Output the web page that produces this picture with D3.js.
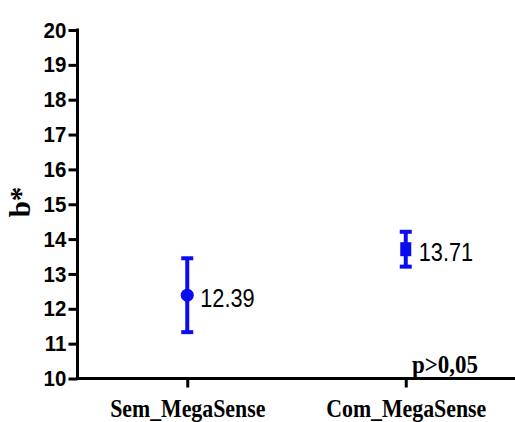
<!DOCTYPE html>
<html>
<head>
<meta charset="utf-8">
<script src="https://cdn.jsdelivr.net/npm/d3@7"></script>
<style>
  body { margin: 0; background: #fff; }
  svg { display: block; }
</style>
</head>
<body>
<svg id="chart" width="515" height="422"></svg>
<script>
// group means with the error bar limits
const groups = ["Sem_MegaSense", "Com_MegaSense"];
const means = [12.39, 13.71];
const upper = [13.45, 14.21];
const lower = [11.33, 13.21];
const markers = ["circle", "square"];
const yTicks = [10, 11, 12, 13, 14, 15, 16, 17, 18, 19, 20];

const svg = d3.select("#chart");
const blue = "#0b0bf0";
const sans = "Arial, 'Liberation Sans', sans-serif";
const serif = "'Liberation Serif', 'Times New Roman', serif";

const x = d3.scalePoint().domain(groups).range([78, 515]).padding(0.5);
const y = d3.scaleLinear().domain([10, 20]).range([378.5, 30]);

// y axis
const yAxis = svg.append("g")
  .attr("transform", "translate(77.5,0)")
  .call(d3.axisLeft(y).tickValues(yTicks).tickSize(9).tickPadding(3).tickFormat(d3.format("d")));
yAxis.select(".domain").attr("stroke-width", 3).attr("d", "M0,28.5V380");
yAxis.selectAll(".tick line").attr("stroke-width", 3);
yAxis.selectAll(".tick text")
  .attr("font-family", sans)
  .attr("font-weight", "bold")
  .attr("font-size", 22)
  .attr("transform", "scale(0.93,1)")
  .attr("fill", "#000");

// x axis
const xAxis = svg.append("g")
  .attr("transform", "translate(0,378.5)")
  .call(d3.axisBottom(x).tickSize(9));
xAxis.select(".domain").attr("stroke-width", 3).attr("d", "M76,0H515");
xAxis.selectAll(".tick line").attr("stroke-width", 3);
xAxis.selectAll(".tick text")
  .attr("y", 38.5)
  .attr("dy", 0)
  .attr("font-family", serif)
  .attr("font-weight", "bold")
  .attr("font-size", 26)
  .attr("transform", "scale(0.84,1)")
  .attr("fill", "#000");

// y title
svg.append("text")
  .attr("transform", "translate(30,202) rotate(-90)")
  .attr("text-anchor", "middle")
  .attr("font-family", serif)
  .attr("font-weight", "bold")
  .attr("font-size", 29)
  .text("b*");

// error bars
const pts = groups.map((g, i) => ({ g, m: means[i], hi: upper[i], lo: lower[i], shape: markers[i] }));
const bars = svg.append("g").selectAll("g").data(pts).join("g")
  .attr("transform", d => `translate(${x(d.g)},0)`);

bars.append("line")
  .attr("y1", d => y(d.hi)).attr("y2", d => y(d.lo))
  .attr("stroke", blue).attr("stroke-width", 4);
bars.append("line")
  .attr("x1", -6).attr("x2", 6)
  .attr("y1", d => y(d.hi)).attr("y2", d => y(d.hi))
  .attr("stroke", blue).attr("stroke-width", 4);
bars.append("line")
  .attr("x1", -6).attr("x2", 6)
  .attr("y1", d => y(d.lo)).attr("y2", d => y(d.lo))
  .attr("stroke", blue).attr("stroke-width", 4);

bars.filter(d => d.shape === "circle").append("circle")
  .attr("cy", d => y(d.m)).attr("r", 6.5).attr("fill", blue);
bars.filter(d => d.shape === "square").append("rect")
  .attr("x", -5.5).attr("y", d => y(d.m) - 7)
  .attr("width", 11).attr("height", 14).attr("fill", blue);

// value labels
bars.append("text")
  .attr("transform", d => `translate(13,${y(d.m)}) scale(0.87,1)`)
  .attr("dy", "0.48em")
  .attr("font-family", sans)
  .attr("font-size", 25)
  .attr("fill", "#000")
  .text(d => d3.format(".2f")(d.m));

// significance note
svg.append("text")
  .attr("transform", "translate(445,373) scale(0.92,1)")
  .attr("text-anchor", "middle")
  .attr("font-family", serif)
  .attr("font-weight", "bold")
  .attr("font-size", 25)
  .text("p>0,05");
</script>
</body>
</html>
